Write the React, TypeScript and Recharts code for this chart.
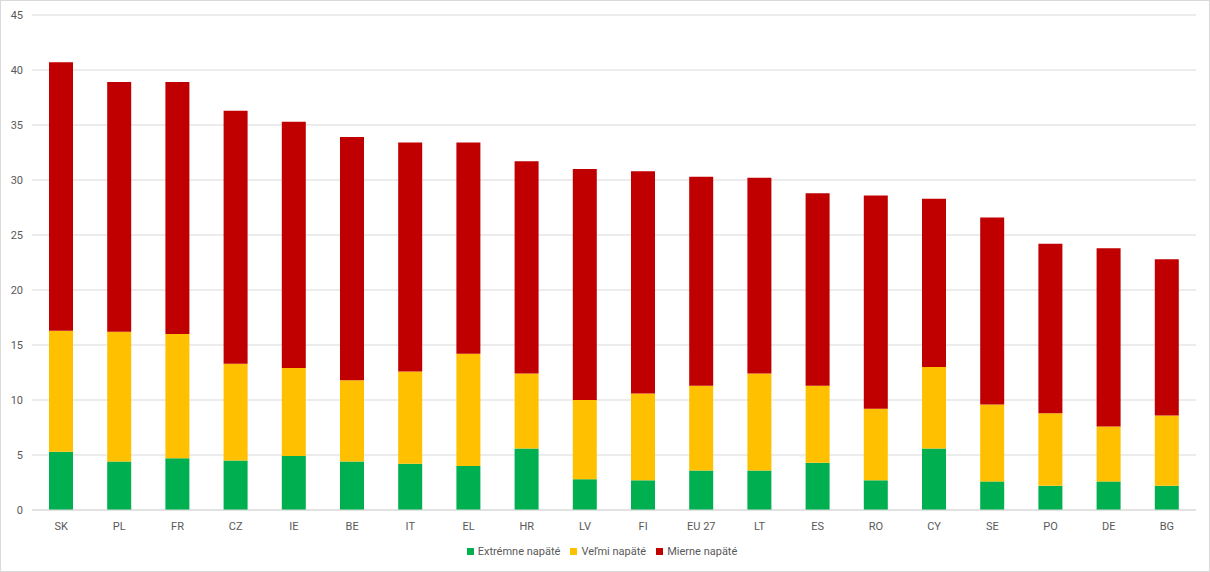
import { BarChart, Bar, XAxis, YAxis, CartesianGrid, Legend } from "recharts";

const GREEN = "#00b050";
const YELLOW = "#ffc000";
const RED = "#c00000";
const GRID = "#d9d9d9";
const TEXT = "#595959";

const countries = ["SK", "PL", "FR", "CZ", "IE", "BE", "IT", "EL", "HR", "LV", "FI", "EU 27", "LT", "ES", "RO", "CY", "SE", "PO", "DE", "BG"];
const extreme = [5.3, 4.4, 4.7, 4.5, 4.9, 4.4, 4.2, 4.0, 5.6, 2.8, 2.7, 3.6, 3.6, 4.3, 2.7, 5.6, 2.6, 2.2, 2.6, 2.2];
const very = [11.0, 11.8, 11.3, 8.8, 8.0, 7.4, 8.4, 10.2, 6.8, 7.2, 7.9, 7.7, 8.8, 7.0, 6.5, 7.4, 7.0, 6.6, 5.0, 6.4];
const mild = [24.4, 22.7, 22.9, 23.0, 22.4, 22.1, 20.8, 19.2, 19.3, 21.0, 20.2, 19.0, 17.8, 17.5, 19.4, 15.3, 17.0, 15.4, 16.2, 14.2];
const yTicks = [0, 5, 10, 15, 20, 25, 30, 35, 40, 45];

const series = [
  { key: "extreme", name: "Extrémne napäté", color: GREEN },
  { key: "very", name: "Veľmi napäté", color: YELLOW },
  { key: "mild", name: "Mierne napäté", color: RED },
];

const data = countries.map((c, i) => ({
  country: c,
  extreme: extreme[i],
  very: very[i],
  mild: mild[i],
}));

function LegendContent() {
  return (
    <div style={{ display: "flex", justifyContent: "center", gap: 10, fontSize: 11, color: TEXT, paddingTop: 5, paddingLeft: 8 }}>
      {series.map((s) => (
        <span key={s.key} style={{ display: "flex", alignItems: "center" }}>
          <span style={{ width: 7, height: 7, background: s.color, marginRight: 4, display: "inline-block" }} />
          {s.name}
        </span>
      ))}
    </div>
  );
}

export default function App() {
  return (
    <div
      style={{
        position: "absolute",
        left: 0,
        top: 0,
        width: 1210,
        height: 572,
        boxSizing: "border-box",
        border: "1px solid #d9d9d9",
        background: "#fff",
        fontFamily: "Roboto, 'Open Sans', sans-serif",
      }}
    >
      <div style={{ position: "absolute", left: -1, top: -1 }}>
        <BarChart
          width={1210}
          height={572}
          data={data}
          margin={{ top: 15, right: 14, left: 0, bottom: 0 }}
          barSize={24}
        >
          <CartesianGrid vertical={false} stroke={GRID} />
          <XAxis
            dataKey="country"
            tick={{ fontSize: 11, fill: TEXT }}
            tickLine={false}
            axisLine={{ stroke: GRID }}
            tickMargin={6}
            height={30}
            interval={0}
          />
          <YAxis
            width={32}
            domain={[0, 45]}
            ticks={yTicks}
            tick={{ fontSize: 11, fill: TEXT }}
            tickLine={false}
            axisLine={false}
            tickMargin={3}
          />
          <Legend verticalAlign="bottom" height={32} content={<LegendContent />} />
          {series.map((s) => (
            <Bar key={s.key} dataKey={s.key} name={s.name} stackId="a" fill={s.color} isAnimationActive={false} />
          ))}
        </BarChart>
      </div>
    </div>
  );
}
